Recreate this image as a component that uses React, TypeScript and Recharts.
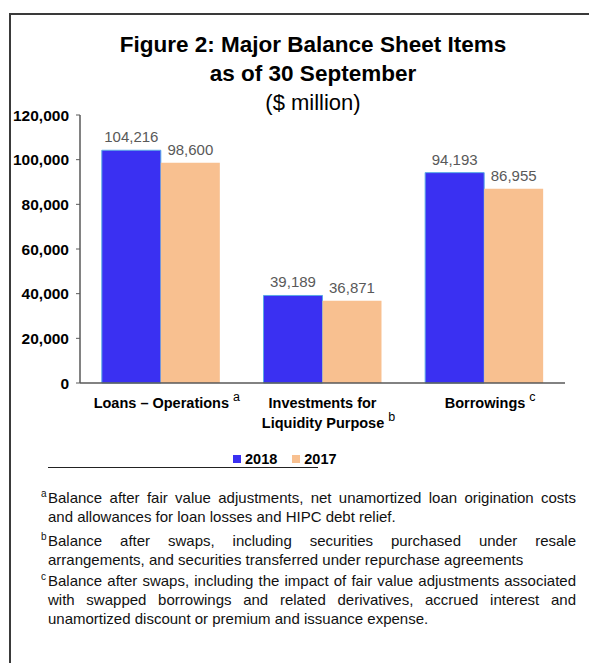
import { BarChart, Bar, XAxis, YAxis, LabelList } from 'recharts';

const categories = ['Loans – Operations', 'Investments for Liquidity Purpose', 'Borrowings'];
const categoryLines = [['Loans – Operations'], ['Investments for', 'Liquidity Purpose'], ['Borrowings']];
const categoryNotes = ['a', 'b', 'c'];
const values2018 = [104216, 39189, 94193];
const values2017 = [98600, 36871, 86955];
const yTicks = [0, 20000, 40000, 60000, 80000, 100000, 120000];

const footnotes = [
  { mark: 'a', text: 'Balance after fair value adjustments, net unamortized loan origination costs and  allowances for loan losses and HIPC debt relief.' },
  { mark: 'b', text: 'Balance after swaps, including securities purchased under resale arrangements, and securities transferred under repurchase agreements' },
  { mark: 'c', text: 'Balance after swaps, including the impact of fair value adjustments associated with swapped borrowings and  related derivatives, accrued interest and unamortized discount or premium and issuance expense.' },
];

const data = categories.map((name, i) => ({
  name,
  y2018: values2018[i],
  y2017: values2017[i],
}));

const FONT = '"Liberation Sans", Arial, sans-serif';
const BLUE = '#3a30f2';
const ORANGE = '#f8c090';

const fmt = (v: number) => v.toLocaleString('en-US');

function CategoryTick(props: any) {
  const { x, y, index } = props;
  const lines = categoryLines[index] || [];
  return (
    <g>
      {lines.map((line, i) => {
        const last = i === lines.length - 1;
        return (
          <text
            key={i}
            x={last ? x + 6 : x}
            y={y + 25 + i * 20}
            textAnchor="middle"
            fontFamily={FONT}
            fontSize={14.5}
            fontWeight="bold"
            fill="#000"
          >
            <tspan>{line}</tspan>
            {last && (
              <tspan dx={4} dy={-7} fontSize={12.5} fontWeight="normal">
                {categoryNotes[index]}
              </tspan>
            )}
          </text>
        );
      })}
    </g>
  );
}

export default function App() {
  return (
    <div style={{ position: 'relative', width: 597, height: 671, margin: -8, background: '#fff', fontFamily: FONT, overflow: 'hidden' }}>
      <div style={{ position: 'absolute', left: 9, top: 13, right: 0, bottom: 0, borderLeft: '2px solid #3a3a3a', borderTop: '2px solid #3a3a3a' }} />

      <div style={{ position: 'absolute', left: 30, width: 566, top: 30, textAlign: 'center', color: '#000' }}>
        <div style={{ fontSize: 22.5, fontWeight: 'bold', lineHeight: '29px' }}>Figure 2: Major Balance Sheet Items</div>
        <div style={{ fontSize: 22.5, fontWeight: 'bold', lineHeight: '29px' }}>as of 30 September</div>
        <div style={{ fontSize: 22, lineHeight: '29px' }}>($ million)</div>
      </div>

      <div style={{ position: 'absolute', left: 0, top: 0 }}>
        <BarChart
          width={597}
          height={440}
          data={data}
          margin={{ top: 115, right: 32, left: 0, bottom: 0 }}
          barCategoryGap="13.5%"
          barGap={0}
        >
          <XAxis
            dataKey="name"
            height={57}
            interval={0}
            tickLine={false}
            tickSize={0}
            tickMargin={0}
            axisLine={{ stroke: '#595959', strokeWidth: 1.5 }}
            tick={<CategoryTick />}
          />
          <YAxis
            width={80}
            domain={[0, 120000]}
            ticks={yTicks}
            interval={0}
            tickFormatter={fmt}
            tickSize={4}
            tickMargin={7}
            axisLine={{ stroke: '#595959', strokeWidth: 1.5 }}
            tickLine={{ stroke: '#595959' }}
            tick={{ fontFamily: FONT, fontSize: 15.5, fontWeight: 'bold', fill: '#000' }}
          />
          <Bar dataKey="y2018" fill={BLUE} stroke="#5aa8e6" strokeWidth={1} isAnimationActive={false}>
            <LabelList dataKey="y2018" position="top" offset={8} formatter={(v: any) => fmt(Number(v))} style={{ fontFamily: FONT, fontSize: 15, fill: '#595959' }} />
          </Bar>
          <Bar dataKey="y2017" fill={ORANGE} isAnimationActive={false}>
            <LabelList dataKey="y2017" position="top" offset={8} formatter={(v: any) => fmt(Number(v))} style={{ fontFamily: FONT, fontSize: 15, fill: '#595959' }} />
          </Bar>
        </BarChart>
      </div>

      <div style={{ position: 'absolute', left: 233, top: 450, display: 'flex', alignItems: 'center', fontSize: 14.5, fontWeight: 'bold', color: '#000', lineHeight: '18px' }}>
        <span style={{ display: 'inline-block', width: 8, height: 8, background: BLUE, marginRight: 4 }} />
        <span>2018</span>
        <span style={{ display: 'inline-block', width: 8, height: 8, background: ORANGE, marginLeft: 15, marginRight: 4 }} />
        <span>2017</span>
      </div>

      <div style={{ position: 'absolute', left: 48, top: 467, width: 270, borderTop: '1.5px solid #222' }} />

      <div style={{ position: 'absolute', left: 40, top: 488, width: 536, fontSize: 15, lineHeight: '19px', color: '#111' }}>
        {footnotes.map((f, i) => (
          <div key={f.mark} style={{ position: 'relative', paddingLeft: 8, textAlign: 'justify', marginTop: i === 0 ? 0 : i === 1 ? 5 : 2 }}>
            <span style={{ position: 'absolute', left: 1, top: -4, fontSize: 10 }}>{f.mark}</span>
            {f.text}
          </div>
        ))}
      </div>
    </div>
  );
}
